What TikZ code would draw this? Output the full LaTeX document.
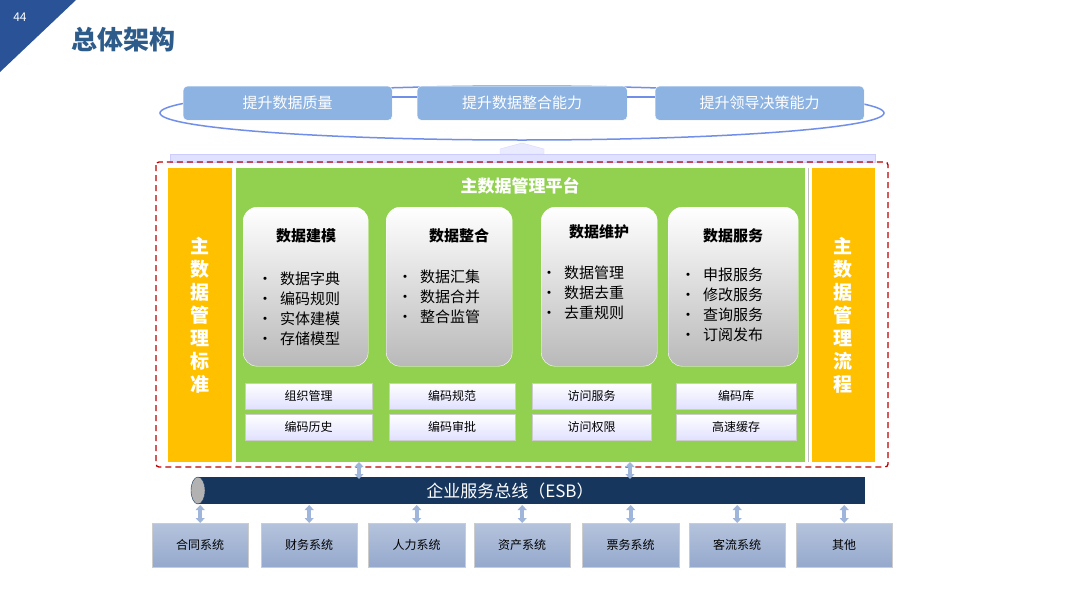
\documentclass[tikz,border=0pt]{standalone}
\usepackage{fontspec}
\setmainfont{Noto Sans CJK SC}
\usetikzlibrary{arrows.meta,shapes.geometric,calc}
\definecolor{tb}{HTML}{8DB3E2}
\definecolor{titleblue}{HTML}{2E5C8A}
\definecolor{grn}{HTML}{92D050}
\definecolor{org}{HTML}{FFC000}
\definecolor{navy}{HTML}{17365D}
\definecolor{sysb}{HTML}{95A9CD}
\definecolor{arr}{HTML}{9FB6DA}
\tikzset{
 goal/.style={draw=white,fill=tb,rounded corners=4pt,text=white,font=\fontsize{15}{15}\selectfont,minimum height=34pt,anchor=north west},
 modbox/.style={rounded corners=14pt,top color=white,bottom color=gray!55,draw=white,anchor=north west},
 smallbox/.style={draw=gray!40,top color=white,bottom color=blue!12,font=\fontsize{12}{12}\selectfont,anchor=north west,minimum height=26pt},
 sysbox/.style={draw=gray!40,top color=sysb!70,bottom color=sysb,font=\fontsize{12}{12}\selectfont,anchor=north west,minimum height=44pt},
 darr/.style={arr,line width=4pt,{Triangle[length=5pt,width=9pt]}-{Triangle[length=5pt,width=9pt]}},
 vtext/.style={text=white,font=\bfseries\fontsize{19}{23}\selectfont,align=center},
 mtitle/.style={font=\bfseries\fontsize{15}{15}\selectfont},
 mlist/.style={font=\fontsize{15}{20}\selectfont,align=left,anchor=north west}
}
\begin{document}
\begin{tikzpicture}[x=1pt,y=-1pt]
\useasboundingbox (0,0) rectangle (1080,608);
\fill[white] (0,0) rectangle (1080,608);
\fill[titleblue!90!blue] (0,0) -- (76,0) -- (0,72) -- cycle;
\node[text=white,font=\fontsize{12}{12}\selectfont] (pg) at (20,17) {44};
\node[text=titleblue,font=\bfseries\fontsize{26}{26}\selectfont,anchor=west] (title) at (68,40) {总体架构};
% goals
\draw[tb!80!blue,line width=1.5pt] (522,113) ellipse [x radius=362,y radius=27];
\node[goal,minimum width=209pt] (g1) at (183,86) {提升数据质量};
\node[goal,minimum width=210pt] (g2) at (417,86) {提升数据整合能力};
\node[goal,minimum width=209pt] (g3) at (655,86) {提升领导决策能力};
\draw[tb!80!blue,line width=1.5pt] (g1.east|-0,97) -- (g2.west|-0,97) (g2.east|-0,97) -- (g3.west|-0,97);
% up arrow and bar
\fill[blue!8,draw=blue!15] (500,154) -- (500,149) -- (522,143) -- (544,149) -- (544,154) -- cycle;
\fill[blue!12,draw=blue!20] (170,154) rectangle (875,162);
% frame
\draw[red!75!black,line width=1.3pt,dashed,dash pattern=on 6pt off 4pt,rounded corners=3pt] (156,162) rectangle (888,467);
\fill[org] (168,168) rectangle (232,462);
\node[vtext] (std) at (200,315) {主\\数\\据\\管\\理\\标\\准};
\fill[grn] (236,168) rectangle (805,462);
\draw[gray!50] (808,168) -- (808,462);
\fill[org] (812,168) rectangle (875,462);
\node[vtext] (flow) at (843,315) {主\\数\\据\\管\\理\\流\\程};
\node[text=white,font=\bfseries\fontsize{17}{17}\selectfont] (plat) at (520,186) {主数据管理平台};
% modules
\node[modbox,minimum width=125pt,minimum height=159pt] (m1) at (243,207) {};
\node[modbox,minimum width=126pt,minimum height=159pt] (m2) at (386,207) {};
\node[modbox,minimum width=116pt,minimum height=159pt] (m3) at (541,207) {};
\node[modbox,minimum width=130pt,minimum height=159pt] (m4) at (668,207) {};
\node[mtitle] (t1) at (306,236) {数据建模};
\node[mtitle] (t2) at (459,236) {数据整合};
\node[mtitle] (t3) at (599,232) {数据维护};
\node[mtitle] (t4) at (733,236) {数据服务};
\node[mlist] (l1) at (254,268) {•\enspace 数据字典\\•\enspace 编码规则\\•\enspace 实体建模\\•\enspace 存储模型};
\node[mlist] (l2) at (394,266) {•\enspace 数据汇集\\•\enspace 数据合并\\•\enspace 整合监管};
\node[mlist] (l3) at (538,262) {•\enspace 数据管理\\•\enspace 数据去重\\•\enspace 去重规则};
\node[mlist] (l4) at (677,264) {•\enspace 申报服务\\•\enspace 修改服务\\•\enspace 查询服务\\•\enspace 订阅发布};
% small boxes
\node[smallbox,minimum width=127pt] (s11) at (245,383) {组织管理};
\node[smallbox,minimum width=127pt] (s12) at (245,414) {编码历史};
\node[smallbox,minimum width=126pt] (s21) at (389,383) {编码规范};
\node[smallbox,minimum width=126pt] (s22) at (389,414) {编码审批};
\node[smallbox,minimum width=119pt] (s31) at (532,383) {访问服务};
\node[smallbox,minimum width=119pt] (s32) at (532,414) {访问权限};
\node[smallbox,minimum width=120pt] (s41) at (676,383) {编码库};
\node[smallbox,minimum width=120pt] (s42) at (676,414) {高速缓存};
% ESB
\fill[navy] (198,477) rectangle (865,504);
\fill[gray!60,draw=navy] (198,490.5) ellipse [x radius=7,y radius=13.5];
\node[text=white,font=\fontsize{17}{17}\selectfont] (esb) at (510,491) {企业服务总线（ESB）};
\coordinate (c1t) at (359,462); \coordinate (c1b) at (359,479);
\coordinate (c2t) at (630,462); \coordinate (c2b) at (630,479);
\draw[darr] (c1t) -- (c1b);
\draw[darr] (c2t) -- (c2b);
% systems
\foreach \n/\x/\w/\t in {a/152/96/合同系统,b/261/96/财务系统,c/368/97/人力系统,d/474/96/资产系统,e/582/97/票务系统,f/689/96/客流系统,g/796/96/其他}{
  \node[sysbox,minimum width=\w pt] (sys\n) at (\x,523) {\t};
  \coordinate (top\n) at ($(sys\n.north)+(0,-18)$);
  \draw[darr] (top\n) -- (sys\n.north);
}
\end{tikzpicture}
\end{document}
